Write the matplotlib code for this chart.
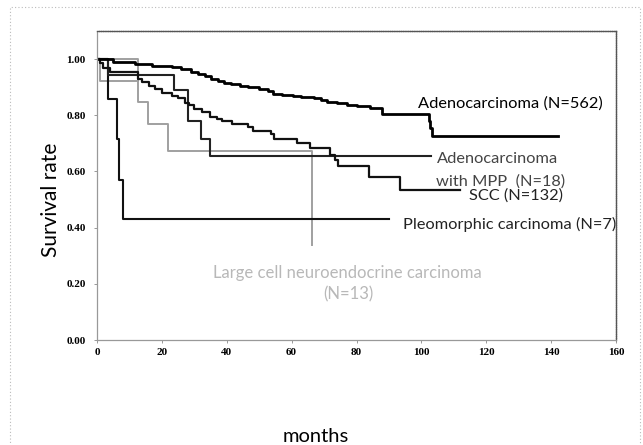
import numpy as np
import matplotlib
matplotlib.use('Agg')
import matplotlib.pyplot as plt
from matplotlib.patches import Rectangle

# Kaplan-Meier step data (months, survival)
adeno_t = [0, 5, 11.6, 17, 23, 26, 29.1, 31, 33.2, 35, 37.3, 39, 41.4, 44, 46.6, 50, 52.7, 54.3, 57,
           60.4, 63, 66.8, 69, 70.9, 74, 77, 80, 84.2, 87.8, 102.2, 102.7, 103.2]
adeno_s = [1.0, 0.99, 0.983, 0.977, 0.971, 0.963, 0.955, 0.948, 0.94, 0.93, 0.921, 0.915, 0.91, 0.905,
           0.9, 0.895, 0.888, 0.874, 0.871, 0.868, 0.865, 0.862, 0.855, 0.848, 0.843, 0.838, 0.832,
           0.826, 0.805, 0.779, 0.755, 0.725]
adeno_end = 142

mpp_t = [0, 3.5, 23.8, 28.2, 32.0, 34.8]
mpp_s = [1.0, 0.944, 0.889, 0.779, 0.717, 0.654]
mpp_end = 103

scc_t = [0, 1, 2, 4, 12.7, 14, 16, 18, 20, 23, 25, 27, 28.5, 30, 32.3, 34.8, 37, 38.4, 41.5, 46.6,
         48, 53.6, 54.7, 61.6, 65.7, 71.8, 73.4, 74.4, 84, 93.4]
scc_s = [1.0, 0.985, 0.97, 0.955, 0.93, 0.92, 0.905, 0.895, 0.88, 0.87, 0.86, 0.845, 0.835, 0.822,
         0.81, 0.795, 0.785, 0.779, 0.77, 0.76, 0.745, 0.733, 0.717, 0.701, 0.683, 0.66, 0.642, 0.618,
         0.579, 0.535]
scc_end = 111.9

pleo_t = [0, 3.4, 6.1, 6.8, 8.1]
pleo_s = [1.0, 0.857, 0.714, 0.571, 0.429]
pleo_end = 90

lcnec_t = [0, 12.7, 15.8, 21.8, 66.2]
lcnec_s = [1.0, 0.846, 0.769, 0.673, 0.337]
lcnec_early_t = [0, 1.0, 12.7]
lcnec_early_s = [1.0, 0.923, 0.923]

fig = plt.figure(figsize=(6.43, 4.45), dpi=100)
ax = fig.add_axes([97/643, 1-340/445, (616-97)/643, (340-31)/445])

def km(ax, t, s, end, **kw):
    t = list(t) + [end]
    s = list(s) + [s[-1]]
    ax.step(t, s, where='post', **kw)

grey = '#a0a0a0'
ax.step(lcnec_early_t, lcnec_early_s, where='post', color=grey, lw=1.4)
ax.step(lcnec_t, lcnec_s, where='post', color=grey, lw=1.4)
km(ax, pleo_t, pleo_s, pleo_end, color='#111111', lw=1.5)
km(ax, mpp_t, mpp_s, mpp_end, color='#222222', lw=1.5)
km(ax, scc_t, scc_s, scc_end, color='#111111', lw=1.6)
km(ax, adeno_t, adeno_s, adeno_end, color='black', lw=2.0)

ax.set_xlim(0, 160)
ax.set_ylim(0, 1.1)
ax.set_xticks(np.arange(0, 161, 20))
ax.set_yticks(np.arange(0, 1.01, 0.2))
ax.set_yticklabels(['%.2f' % v for v in np.arange(0, 1.01, 0.2)])
for lab in ax.get_xticklabels() + ax.get_yticklabels():
    lab.set_family('Liberation Serif')
    lab.set_fontweight('bold')
    lab.set_fontsize(8)
ax.tick_params(axis='both', length=2, width=0.6, color='#888888', pad=4)
ax.tick_params(axis='y', pad=6)

for side in ['left', 'bottom']:
    ax.spines[side].set_color('#999999')
    ax.spines[side].set_linestyle((0, (1, 1)))
    ax.spines[side].set_linewidth(0.9)
for side in ['top', 'right']:
    ax.spines[side].set_color('#555555')
    ax.spines[side].set_linestyle((0, (1, 0.6)))
    ax.spines[side].set_linewidth(1.0)

lab_font = 'Lato'
fs = 11.8
ax.text(99.0, 0.843, 'Adenocarcinoma (N=562)', fontsize=fs, family=lab_font, color='black',
        ha='left', va='center')
ax.text(104.8, 0.643, 'Adenocarcinoma', fontsize=fs, family=lab_font, color='#444444',
        ha='left', va='center')
ax.text(104.5, 0.564, 'with MPP  (N=18)', fontsize=fs, family=lab_font, color='#444444',
        ha='left', va='center')
ax.text(143.7, 0.514, 'SCC (N=132)', fontsize=fs, family=lab_font, color='#222222',
        ha='right', va='center')
ax.text(94.3, 0.411, 'Pleomorphic carcinoma (N=7)', fontsize=fs, family=lab_font, color='#222222',
        ha='left', va='center', clip_on=False)
ax.text(77.1, 0.239, 'Large cell neuroendocrine carcinoma', fontsize=12, family=lab_font,
        color='#b8b8b8', ha='center', va='center')
ax.text(77.4, 0.161, '(N=13)', fontsize=12, family=lab_font, color='#b8b8b8',
        ha='center', va='center')

fig.text(51/643, 1-200/445, 'Survival rate', rotation=90, fontsize=15, family=lab_font,
         ha='center', va='center')
fig.text(316/643, 1-437/445, 'months', fontsize=14.5, family=lab_font, ha='center', va='center')

# scanned page border
border = Rectangle((10/643, -0.01), (640-10)/643, 1-7/445+0.01, transform=fig.transFigure,
                   fill=False, edgecolor='#bbbbbb', lw=0.8, linestyle=(0, (1, 2)), clip_on=False)
fig.add_artist(border)

fig.savefig('out.png', dpi=100)
